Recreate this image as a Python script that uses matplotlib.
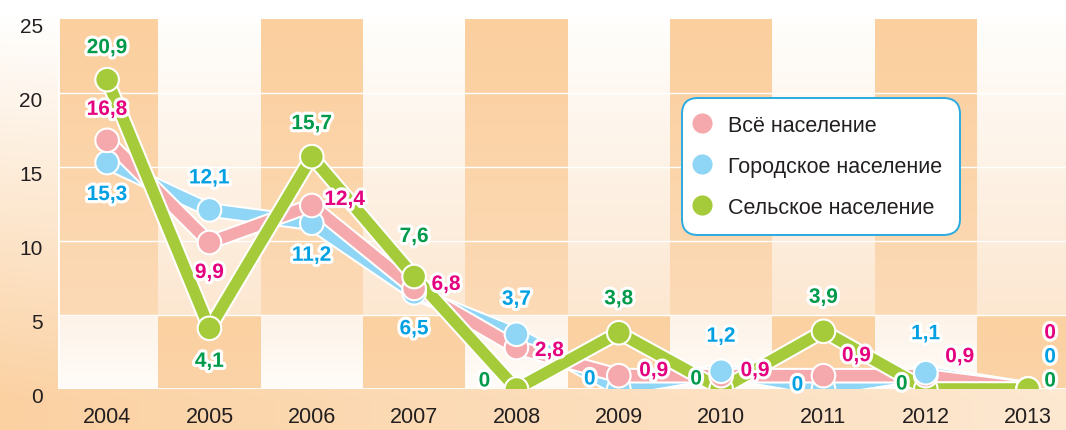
import numpy as np
import matplotlib
import matplotlib.pyplot as plt
import matplotlib.patheffects as pe
from matplotlib.lines import Line2D
from matplotlib.colors import to_rgb
from matplotlib.transforms import ScaledTranslation

plt.rcParams['font.family'] = ['Liberation Sans', 'DejaVu Sans']

# data
years = [2004, 2005, 2006, 2007, 2008, 2009, 2010, 2011, 2012, 2013]
all_pop = [16.8, 9.9, 12.4, 6.8, 2.8, 0.9, 0.9, 0.9, 0.9, 0]
urban = [15.3, 12.1, 11.2, 6.5, 3.7, 0, 1.2, 0, 1.1, 0]
rural = [20.9, 4.1, 15.7, 7.6, 0, 3.8, 0, 3.9, 0, 0]
names = ['Всё население', 'Городское население', 'Сельское население']

# label offsets in pixels (dx, dy)
off_all = [(0, 31), (0, -30), (33, 6), (32, 4), (33, -3), (35, 5), (34, 5), (33, 20), (34, 19), (22, 56)]
off_urban = [(0, -32), (0, 32), (0, -32), (0, -36), (0, 35), (-29, 10), (0, 35), (-26, 4), (0, 39), (22, 32)]
off_rural = [(0, 32), (0, -33), (0, 33), (0, 40), (-32, 8), (0, 34), (-25, 10), (0, 34), (-24, 5), (22, 8)]

peach = np.array(to_rgb('#fbd1a2'))

fig = plt.figure(figsize=(10.66, 4.31), dpi=100)

# figure background gradient
H, W = 431, 1066
yy = np.arange(H)[:, None]
xx = np.linspace(0, 1, W)[None, :]
tv = np.clip((yy - 15) / 385., 0, 1)
t = tv * (1 - 0.5 * xx)
img = 1 - t[..., None] * (1 - peach)
bg = fig.add_axes([0, 0, 1, 1], zorder=-1)
bg.imshow(img, aspect='auto', extent=[0, 1, 0, 1])
bg.axis('off')

ax = fig.add_axes([58 / 1066., 41 / 431., 1008 / 1066., 370 / 431.])
ax.patch.set_alpha(0)


def vgrad(top, bot, n=64):
    k = np.linspace(0, 1, n)[:, None]
    c = np.array(to_rgb(top))[None, :] * (1 - k) + np.array(to_rgb(bot))[None, :] * k
    return c[:, None, :]


for i, yr in enumerate(years):
    if i % 2 == 0:
        up = vgrad('#fbcf9e', '#fcdab6')
        lo = vgrad('#fdf3e8', '#fffcf8')
    else:
        up = vgrad('#fffefc', '#fce7d1')
        lo = vgrad('#fbd1a2', '#fbd3a6')
    ax.imshow(up, aspect='auto', extent=[yr - 0.5, yr + 0.5, 5, 25], zorder=0)
    ax.imshow(lo, aspect='auto', extent=[yr - 0.5, yr + 0.5, 0, 5], zorder=0)

for g in [5, 10, 15, 20]:
    ax.axhline(g, color='white', lw=1.0, zorder=1)
ax.axhline(0, color='white', lw=2, zorder=1)
ax.axvline(2003.52, color='white', lw=2, zorder=1)

specs = [
    (urban, off_urban, '#8fd5f5', '#00a0e3', 3),
    (all_pop, off_all, '#f5a9ac', '#e4007f', 4),
    (rural, off_rural, '#a5cb3a', '#009a4a', 5),
]
for vals, offs, lc, tc, z in specs:
    ax.plot(years, vals, color=lc, lw=8.3, solid_joinstyle='round', solid_capstyle='round', zorder=z,
            path_effects=[pe.Stroke(linewidth=11.3, foreground='white'), pe.Normal()])
    for yr, v, (dx, dy) in zip(years, vals, offs):
        ax.annotate(f'{v:g}'.replace('.', ','), (yr, v), xytext=(dx, dy), textcoords='offset pixels',
                    ha='center', va='center', fontsize=15, fontweight='bold', color=tc, zorder=10,
                    path_effects=[pe.Stroke(linewidth=4.5, foreground='white'), pe.Normal()])

# markers: higher point drawn on top
mx = np.concatenate([years] * 3)
my = np.concatenate([urban, all_pop, rural])
mc = np.repeat([s[2] for s in specs], len(years))
order = np.argsort(my, kind='stable')
ax.scatter(mx[order], my[order], s=17 ** 2, c=mc[order], edgecolors='white', linewidths=1.5, zorder=8)

ax.set_xlim(2003.52, 2013.37)
ax.set_ylim(0, 25)
ax.set_xticks(years)
ax.set_yticks(range(0, 26, 5))
ax.tick_params(length=0, colors='#231f20')
ax.tick_params(axis='x', labelsize=15.5, pad=12)
ax.tick_params(axis='y', labelsize=15, pad=11)
for lab in ax.get_yticklabels():
    lab.set_transform(lab.get_transform() + ScaledTranslation(0, -4 / 72., fig.dpi_scale_trans))
for s in ax.spines.values():
    s.set_visible(False)

handles = [Line2D([], [], ls='none', marker='o', ms=14.5, color=c, mec='none')
           for c in ['#f5a9ac', '#8fd5f5', '#a5cb3a']]
leg = ax.legend(handles, names, loc='upper left', bbox_to_anchor=(0.619, 0.787), fontsize=15.5,
                frameon=True, facecolor='white', edgecolor='#29abe2', framealpha=1, borderaxespad=0,
                handlelength=0.3, handletextpad=1.05, labelspacing=0.92, borderpad=0.8)
leg.get_frame().set_boxstyle('round', pad=0, rounding_size=0.75)
leg.get_frame().set_linewidth(1.4)
leg.set_zorder(20)
for tx in leg.get_texts():
    tx.set_color('#231f20')

fig.savefig('out.png', dpi=100)
